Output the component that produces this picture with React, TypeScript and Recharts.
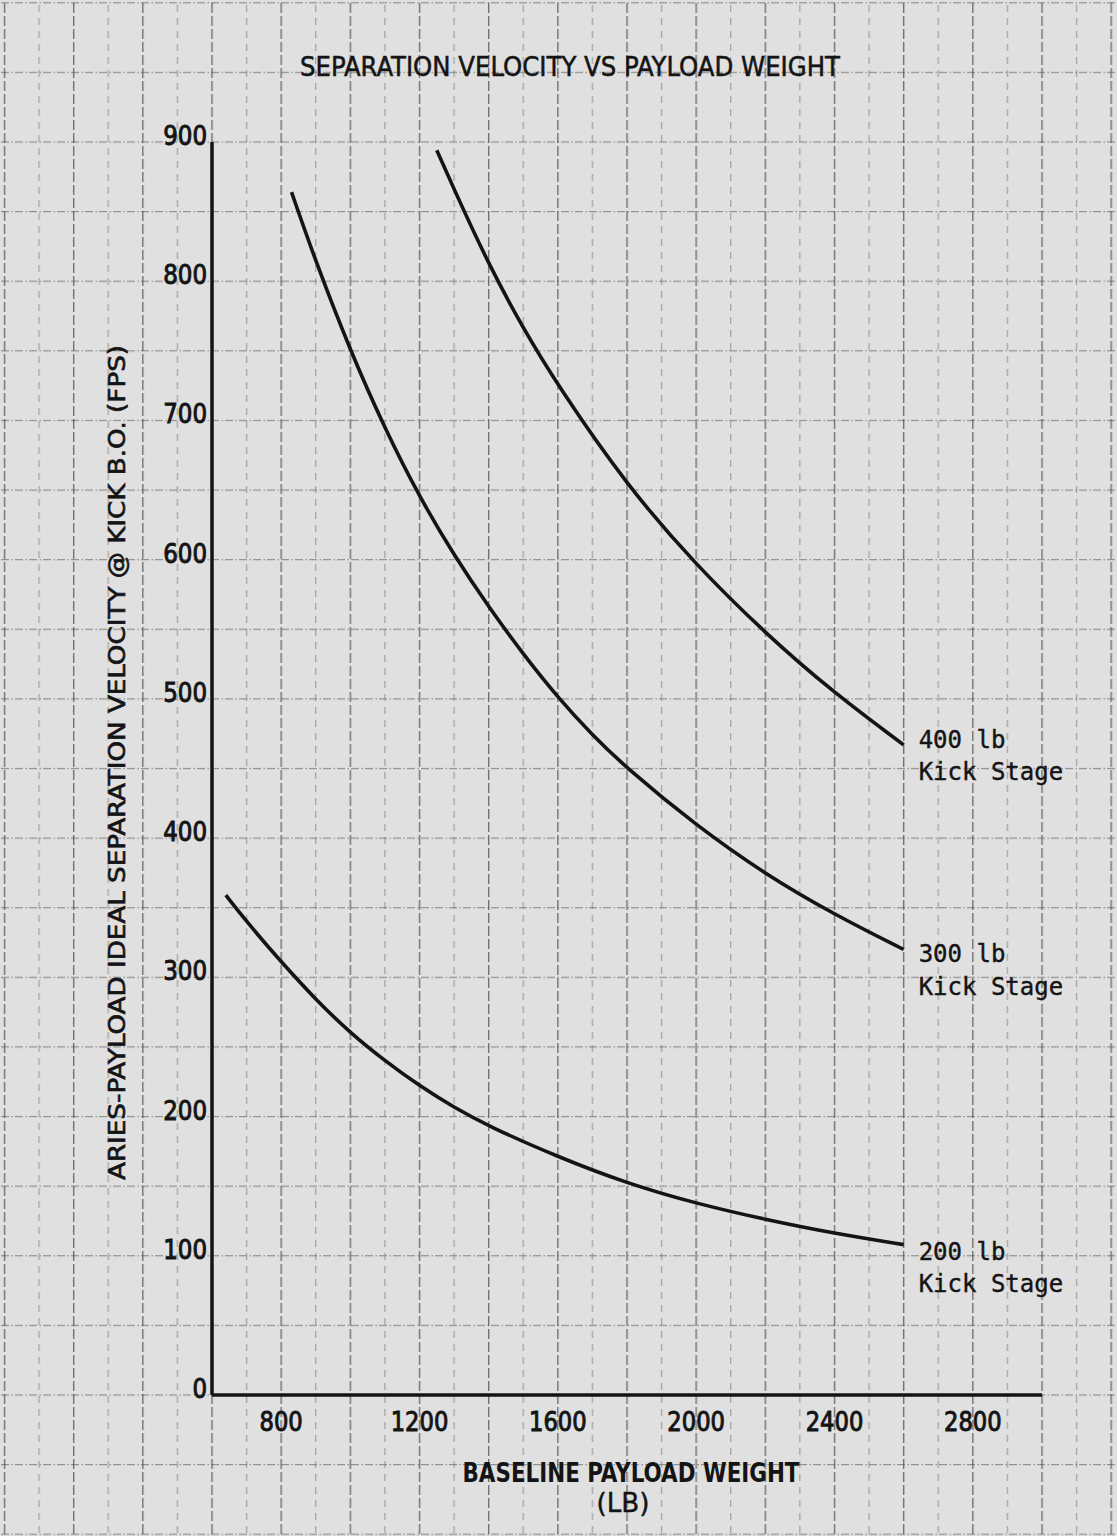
import { Line, LineChart, XAxis, YAxis } from "recharts";

// payload weight (lb) / separation velocity (fps)
const weights400 = [1250, 1300, 1400, 1500, 1600, 1800, 2000, 2200, 2400, 2600];
const velocity400 = [894, 866, 812, 766, 725, 653, 596, 547, 504, 467];

const weights300 = [830, 900, 1000, 1100, 1200, 1300, 1400, 1500, 1600, 1700, 1800, 2000, 2200, 2400, 2600];
const velocity300 = [864, 814, 750, 694, 645, 603, 566, 532, 501, 474, 450, 409, 374, 345, 320];

const weights200 = [640, 700, 800, 900, 1000, 1100, 1200, 1300, 1400, 1600, 1800, 2000, 2200, 2400, 2600];
const velocity200 = [359, 340, 311, 284, 260, 240, 222, 206.5, 193, 171, 152, 137.5, 126, 116, 108];

const xTicks = [800, 1200, 1600, 2000, 2400, 2800];
const yTicks = [0, 100, 200, 300, 400, 500, 600, 700, 800, 900];

const INK = "#141414";
const PAPER = "#e0e0e0";
const LETTER_FONT = "'DejaVu Sans Condensed', 'Liberation Sans Narrow', 'DejaVu Sans', sans-serif";
const TYPE_FONT = "'DejaVu Sans Mono', 'Liberation Mono', monospace";

// plot box in page pixels
const W = 1117;
const H = 1536;
const PLOT_LEFT = 212;
const PLOT_RIGHT = 1042;
const PLOT_TOP = 142;
const PLOT_BOTTOM = 1395;
const X_STEP = ((PLOT_RIGHT - PLOT_LEFT) / 2400) * 100; // 100 lb
const Y_STEP = ((PLOT_BOTTOM - PLOT_TOP) / 900) * 50; // 50 fps

function toPoints(xs: number[], ys: number[]) {
  return xs.map((x, i) => ({ x, v: ys[i] }));
}

function YTick({ x, y, payload }: any) {
  const s = String(payload.value);
  return (
    <text
      x={x}
      y={y}
      dy={3}
      textAnchor="end"
      fontFamily={LETTER_FONT}
      fontSize={26}
      fill={INK}
      stroke={INK}
      strokeWidth={0.9}
      textLength={s.length * 14.6}
      lengthAdjust="spacingAndGlyphs"
    >
      {s}
    </text>
  );
}

function XTick({ x, y, payload }: any) {
  const s = String(payload.value);
  return (
    <text
      x={x}
      y={y + 36}
      textAnchor="middle"
      fontFamily={LETTER_FONT}
      fontSize={26}
      fill={INK}
      stroke={INK}
      strokeWidth={0.9}
      textLength={s.length * 14.4}
      lengthAdjust="spacingAndGlyphs"
    >
      {s}
    </text>
  );
}

function XTitle(props: any) {
  const vb = props.viewBox ?? { x: PLOT_LEFT, y: PLOT_BOTTOM, width: PLOT_RIGHT - PLOT_LEFT };
  const cx = vb.x + vb.width / 2 + 4;
  return (
    <g fill={INK} fontFamily={LETTER_FONT}>
      <text x={cx} y={vb.y + 87} textAnchor="middle" fontSize={26} fontWeight="bold" textLength={337} lengthAdjust="spacingAndGlyphs">
        BASELINE PAYLOAD WEIGHT
      </text>
      <text x={cx - 8} y={vb.y + 117} textAnchor="middle" fontSize={27} stroke={INK} strokeWidth={0.4} textLength={53} lengthAdjust="spacingAndGlyphs">
        (LB)
      </text>
    </g>
  );
}

function YTitle(props: any) {
  const vb = props.viewBox ?? { x: 0, y: PLOT_TOP, width: PLOT_LEFT, height: PLOT_BOTTOM - PLOT_TOP };
  const bx = 125;
  const cy = vb.y + vb.height / 2 - 6;
  return (
    <text
      x={bx}
      y={cy}
      transform={`rotate(-90, ${bx}, ${cy})`}
      textAnchor="middle"
      fontFamily={LETTER_FONT}
      fontSize={23}
      fill={INK}
      stroke={INK}
      strokeWidth={0.6}
      textLength={835}
      lengthAdjust="spacingAndGlyphs"
    >
      ARIES-PAYLOAD IDEAL SEPARATION VELOCITY @ KICK B.O. (FPS)
    </text>
  );
}

// typed note at the right end of each curve
function endLabel(lastValue: number, first: string, dy1: number, dy2: number) {
  return (props: any) => {
    if (props.value !== lastValue) return null;
    const x = Number(props.x) + 15;
    const y = Number(props.y);
    return (
      <g fontFamily={TYPE_FONT} fontSize={24} fill={INK} stroke={INK} strokeWidth={0.4}>
        <text x={x} y={y + dy1}>{first}</text>
        <text x={x} y={y + dy2}>Kick Stage</text>
      </g>
    );
  };
}

function GraphPaper() {
  return (
    <svg width={W} height={H} style={{ position: "absolute", left: 0, top: 0 }}>
      <defs>
        <pattern id="vgrid" patternUnits="userSpaceOnUse" x={PLOT_LEFT - 0.7} y={3} width={X_STEP * 2} height={13}>
          <line x1={0.7} y1={0} x2={0.7} y2={10} stroke="#4a4a4a" strokeWidth={1.4} opacity={0.75} />
          <line x1={0.7 + X_STEP} y1={2} x2={0.7 + X_STEP} y2={9} stroke="#6a6a6a" strokeWidth={1.1} opacity={0.6} />
        </pattern>
        <pattern id="hgrid" patternUnits="userSpaceOnUse" x={1} y={PLOT_BOTTOM - 0.6} width={14} height={Y_STEP}>
          <line x1={0} y1={0.6} x2={8} y2={0.6} stroke="#5a5a5a" strokeWidth={1.2} opacity={0.6} />
          <line x1={10.5} y1={0.6} x2={12} y2={0.6} stroke="#5a5a5a" strokeWidth={1.2} opacity={0.6} />
        </pattern>
      </defs>
      <rect width={W} height={H} fill={PAPER} />
      <rect width={W} height={H} fill="url(#hgrid)" />
      <rect width={W} height={H} fill="url(#vgrid)" />
      <text
        x={570}
        y={76}
        textAnchor="middle"
        fontFamily={LETTER_FONT}
        fontSize={27}
        fill={INK}
        stroke={INK}
        strokeWidth={0.5}
        textLength={540}
        lengthAdjust="spacingAndGlyphs"
      >
        SEPARATION VELOCITY VS PAYLOAD WEIGHT
      </text>
    </svg>
  );
}

export default function App() {
  const xAxisHeight = 60;
  return (
    <div style={{ position: "absolute", left: 0, top: 0, width: W, height: H, overflow: "hidden" }}>
      <GraphPaper />
      <div style={{ position: "absolute", left: 0, top: 0 }}>
        <LineChart
          width={W}
          height={H}
          margin={{ top: PLOT_TOP, right: W - PLOT_RIGHT, bottom: H - PLOT_BOTTOM - xAxisHeight, left: 0 }}
        >
          <XAxis
            type="number"
            dataKey="x"
            domain={[600, 3000]}
            ticks={xTicks}
            height={xAxisHeight}
            tickLine={false}
            tickSize={0}
            tickMargin={0}
            axisLine={{ stroke: INK, strokeWidth: 3.5 }}
            tick={<XTick />}
            label={(p: any) => <XTitle {...p} />}
          />
          <YAxis
            type="number"
            domain={[0, 900]}
            ticks={yTicks}
            width={PLOT_LEFT}
            tickLine={false}
            tickSize={0}
            tickMargin={5}
            axisLine={{ stroke: INK, strokeWidth: 3.5 }}
            tick={<YTick />}
            label={(p: any) => <YTitle {...p} />}
          />
          <Line
            data={toPoints(weights400, velocity400)}
            dataKey="v"
            type="basis"
            stroke={INK}
            strokeWidth={3.6}
            dot={false}
            isAnimationActive={false}
            label={endLabel(velocity400[velocity400.length - 1], "400 lb", 3, 35)}
          />
          <Line
            data={toPoints(weights300, velocity300)}
            dataKey="v"
            type="basis"
            stroke={INK}
            strokeWidth={3.6}
            dot={false}
            isAnimationActive={false}
            label={endLabel(velocity300[velocity300.length - 1], "300 lb", 13, 46)}
          />
          <Line
            data={toPoints(weights200, velocity200)}
            dataKey="v"
            type="basis"
            stroke={INK}
            strokeWidth={3.6}
            dot={false}
            isAnimationActive={false}
            label={endLabel(velocity200[velocity200.length - 1], "200 lb", 15, 47)}
          />
        </LineChart>
      </div>
    </div>
  );
}
